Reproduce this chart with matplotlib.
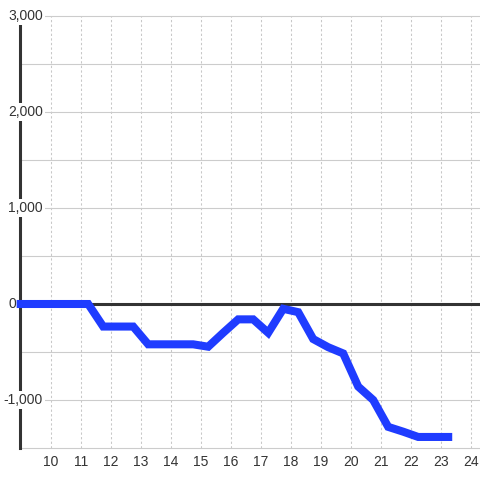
import matplotlib
matplotlib.use("Agg")
import matplotlib.pyplot as plt

plt.rcParams['font.family'] = ['Liberation Sans', 'DejaVu Sans']

hours = [9.0, 11.25, 11.75, 12.75, 13.25, 14.75, 15.25, 15.75, 16.25, 16.75, 17.25,
         17.75, 18.25, 18.75, 19.25, 19.75, 20.25, 20.75, 21.25, 21.75, 22.25, 23.25]
values = [0, 0, -235, -235, -420, -420, -445, -300, -160, -160, -300,
          -50, -85, -365, -450, -515, -860, -1000, -1280, -1330, -1385, -1385]

x_ticks = list(range(10, 25))
y_labels = {3000: "3,000", 2000: "2,000", 1000: "1,000", 0: "0", -1000: "-1,000"}
y_grid = [-1500, -1000, -500, 0, 500, 1000, 1500, 2000, 2500, 3000]

W = H = 480
fig = plt.figure(figsize=(4.8, 4.8), dpi=100)
ax = fig.add_axes([20 / W, 1 - 448 / H, 460 / W, 432 / H])
ax.set_xlim(8.977, 24.31)
ax.set_ylim(-1500, 3000)

for s in ['top', 'right', 'bottom']:
    ax.spines[s].set_visible(False)
ax.spines['left'].set_color('#333333')
ax.spines['left'].set_linewidth(2.2)

for v in x_ticks:
    ax.axvline(v, color='#c8c8c8', lw=0.75, ls=(0, (2.2, 2.2)), zorder=1)
for v in y_grid:
    ax.axhline(v, color='#cccccc', lw=0.8, zorder=1, clip_on=False)
ax.axhline(0, color='#333333', lw=2.2, zorder=2)

ax.plot(hours, values, color='#1f3cff', lw=5.8, solid_capstyle='projecting',
        solid_joinstyle='miter', zorder=4, clip_on=False)

ax.set_xticks(x_ticks)
ax.set_xticklabels([str(v) for v in x_ticks])
ax.set_yticks([])
ax.tick_params(axis='x', length=0, pad=5, labelsize=10, labelcolor='#333333')

for v, lab in y_labels.items():
    xoff = 23 if v != 0 else -4
    ax.annotate(lab, xy=(0, v), xycoords=('axes fraction', 'data'),
                xytext=(xoff, 0), textcoords='offset pixels',
                ha='right', va='center', fontsize=10, color='#333333',
                bbox=dict(boxstyle='square,pad=0.15', fc='white', ec='none'),
                zorder=3, annotation_clip=False)

fig.savefig('out.png', dpi=100, facecolor='white')
